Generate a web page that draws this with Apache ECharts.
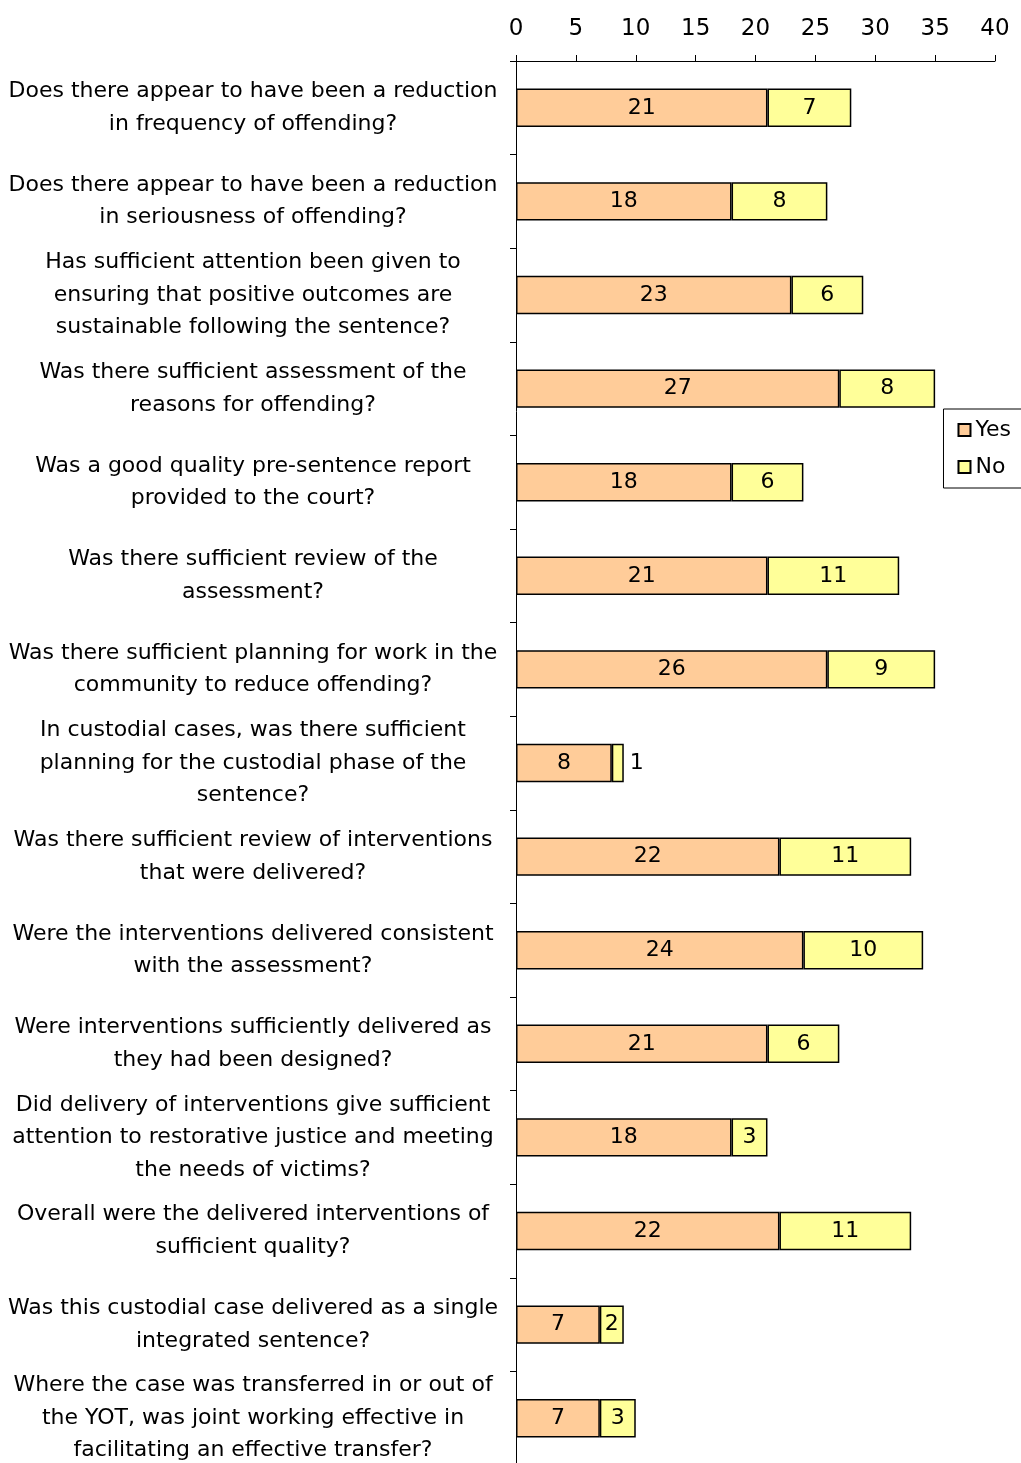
<!DOCTYPE html>
<html><head><meta charset="utf-8">
<script src="https://cdn.jsdelivr.net/npm/echarts@6/dist/echarts.min.js"></script>
<style>html,body{margin:0;padding:0;background:#fff}#c{width:1021px;height:1463px}</style>
</head><body><div id="c"></div>
<script>
const categories = [
  "Does there appear to have been a reduction\nin frequency of offending?",
  "Does there appear to have been a reduction\nin seriousness of offending?",
  "Has sufficient attention been given to\nensuring that positive outcomes are\nsustainable following the sentence?",
  "Was there sufficient assessment of the\nreasons for offending?",
  "Was a good quality pre-sentence report\nprovided to the court?",
  "Was there sufficient review of the\nassessment?",
  "Was there sufficient planning for work in the\ncommunity to reduce offending?",
  "In custodial cases, was there sufficient\nplanning for the custodial phase of the\nsentence?",
  "Was there sufficient review of interventions\nthat were delivered?",
  "Were the interventions delivered consistent\nwith the assessment?",
  "Were interventions sufficiently delivered as\nthey had been designed?",
  "Did delivery of interventions give sufficient\nattention to restorative justice and meeting\nthe needs of victims?",
  "Overall were the delivered interventions of\nsufficient quality?",
  "Was this custodial case delivered as a single\nintegrated sentence?",
  "Where the case was transferred in or out of\nthe YOT, was joint working effective in\nfacilitating an effective transfer?"
];
const yesValues = [21, 18, 23, 27, 18, 21, 26, 8, 22, 24, 21, 18, 22, 7, 7];
const noValues  = [7, 8, 6, 8, 6, 11, 9, 1, 11, 10, 6, 3, 11, 2, 3];
const xTicks = [0, 5, 10, 15, 20, 25, 30, 35, 40];

const font = "DejaVu Sans";
const chart = echarts.init(document.getElementById('c'), null, {renderer:'canvas'});
chart.setOption({
  animation:false,
  textStyle:{fontFamily:font},
  grid:{left:516, top:61, width:479, height:1404, containLabel:false, outerBoundsMode:'none'},
  legend:{
    orient:'vertical', right:-10, top:409,
    padding:[10,20,10,14], itemGap:15,
    borderColor:'#000', borderWidth:1, backgroundColor:'#fff',
    itemWidth:12, itemHeight:12, icon:'rect',
    textStyle:{fontFamily:font, fontSize:22, color:'#000'},
    data:['Yes','No']
  },
  xAxis:{
    type:'value', position:'top', min:xTicks[0], max:xTicks[xTicks.length-1], interval:5,
    axisLine:{show:true, lineStyle:{color:'#000', width:1}},
    axisTick:{show:true, length:6, lineStyle:{color:'#000'}},
    splitLine:{show:false},
    axisLabel:{fontFamily:font, fontSize:23, color:'#000', margin:20}
  },
  yAxis:{
    type:'category', inverse:true, data:categories,
    axisLine:{show:true, lineStyle:{color:'#000', width:1}},
    axisTick:{show:true, length:6, lineStyle:{color:'#000'}},
    axisLabel:{fontFamily:font, fontSize:22, color:'#000', align:'center', margin:263, lineHeight:32.5, interval:0}
  },
  series:[
    {name:'Yes', type:'bar', stack:'s', barWidth:'41%', data:yesValues,
     itemStyle:{color:'#FFCC99', borderColor:'#000', borderWidth:1.5},
     label:{show:true, position:'inside', color:'#000', fontFamily:font, fontSize:22}},
    {name:'No', type:'bar', stack:'s', barWidth:'41%',
     data:noValues.map(v => v===1 ? {value:v, label:{position:'right', distance:6}} : v),
     itemStyle:{color:'#FFFF99', borderColor:'#000', borderWidth:1.5},
     label:{show:true, position:'inside', color:'#000', fontFamily:font, fontSize:22}}
  ]
});
</script></body></html>
